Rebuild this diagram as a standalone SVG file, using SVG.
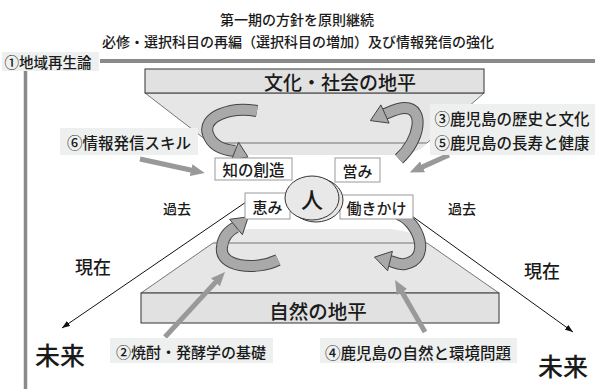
<svg xmlns="http://www.w3.org/2000/svg" width="595" height="389" viewBox="0 0 595 389">
<defs>
<style>
text{font-family:"Noto Sans CJK JP","Noto Sans CJK SC",sans-serif;font-weight:500;fill:#1a1a1a;text-anchor:middle;dominant-baseline:central}
.lbg{fill:#eef0ef}
.box{fill:#fff;stroke:#999;stroke-width:1}
.slab{fill:#e1e1e1;stroke:#333;stroke-width:1}
.face{fill:#e6e6e6;stroke:#555;stroke-width:0.8}
.rib-o{fill:none;stroke:#444;stroke-width:12;stroke-linecap:butt}
.rib-i{fill:none;stroke:#a9a9a9;stroke-width:10;stroke-linecap:butt}
.rhead{fill:#a9a9a9;stroke:#444;stroke-width:1;stroke-linejoin:miter}
.garr{stroke:#999;stroke-width:5;fill:none;marker-end:url(#gm)}
.blk{stroke:#111;stroke-width:1;fill:none;marker-end:url(#bm)}
</style>
<marker id="gm" markerUnits="userSpaceOnUse" markerWidth="14" markerHeight="12" refX="3" refY="6" orient="auto"><path d="M0,0 L14,6 L0,12 z" fill="#999"/></marker>
<marker id="bm" markerUnits="userSpaceOnUse" markerWidth="8" markerHeight="6" refX="8" refY="3" orient="auto"><path d="M0,0 L8,3 L0,6 z" fill="#111"/></marker>
</defs>

<g id="title">
<text x="297" y="19" font-size="14">第一期の方針を原則継続</text>
<text x="298" y="41" font-size="14">必修・選択科目の再編（選択科目の増加）及び情報発信の強化</text>
</g>

<g id="frame">
<line x1="100" y1="61" x2="595" y2="61" stroke="#8a8a8a" stroke-width="4"/>
<line x1="25.5" y1="70" x2="25.5" y2="389" stroke="#8a8a8a" stroke-width="3.5"/>
</g>
<g id="label1">
<rect class="lbg" x="2" y="52" width="97" height="19"/>
<text x="48" y="61" font-size="14.5">①地域再生論</text>
</g>

<g id="upper-slab">
<path d="M210,143 L427,143 Q420,153 398,155 L232,155 Q214,153 210,143 Z" fill="#e6e6e6"/>
<path class="face" d="M145,93 L484,93 L427,143 L210,143 Z"/>
<rect class="slab" x="145" y="69" width="339" height="24"/>
<text x="340" y="81" font-size="19">文化・社会の地平</text>
</g>

<g id="lower-slab">
<path d="M213,243 Q225,231 250,229 L390,229 Q415,231 427,243 Z" fill="#e8e8e8"/>
<path class="face" d="M213,243 L427,243 L499,293 L141,293 Z"/>
<rect class="slab" x="141" y="293" width="358" height="30"/>
<text x="318" y="310" font-size="19.5">自然の地平</text>
</g>

<g id="connectors">
<line class="blk" x1="249" y1="200" x2="62" y2="328"/>
<line class="blk" x1="398" y1="206" x2="573" y2="332"/>
<line class="garr" x1="140" y1="159" x2="194" y2="170.7"/>
<line class="garr" x1="449" y1="155" x2="419.8" y2="168.1"/>
<line class="garr" x1="165" y1="337" x2="217.5" y2="280.1"/>
<line class="garr" x1="425" y1="332" x2="400.5" y2="289.5"/>
<g id="rib1">
<path class="rib-o" d="M257,111 C230,106 202,117 208,134 C212,146 224,150 235,151"/>
<path class="rib-i" d="M257,111 C230,106 202,117 208,134 C212,146 224,150 235,151"/>
<polygon class="rhead" points="238.5,142.2 248,157 231.5,159.8"/>
</g>
<g id="rib2">
<path class="rib-o" d="M399,159 C420,140 425,108 405,108 C398,108 392,111 385,114"/>
<path class="rib-i" d="M399,159 C420,140 425,108 405,108 C398,108 392,111 385,114"/>
<polygon class="rhead" points="389.1,123.1 370.4,120.6 380.9,104.9"/>
</g>
<g id="rib3">
<path class="rib-o" d="M278,260 C255,271 219,267 222,247 C223,236 230,230 236,227"/>
<path class="rib-i" d="M278,260 C255,271 219,267 222,247 C223,236 230,230 236,227"/>
<polygon class="rhead" points="242.4,234.7 248.3,216.8 229.6,219.3"/>
</g>
<g id="rib4">
<path class="rib-o" d="M398,214 C419,222 432,259 405,264 C398,265 394,262 390,261"/>
<path class="rib-i" d="M398,214 C419,222 432,259 405,264 C398,265 394,262 390,261"/>
<polygon class="rhead" points="392.4,251.3 374.5,257.1 387.6,270.7"/>
</g>
</g>

<g id="n-chi">
<rect class="box" x="215" y="158" width="77" height="22"/>
<text x="253.5" y="169" font-size="15.5">知の創造</text>
</g>
<g id="n-itonami">
<rect class="box" x="335" y="158" width="45" height="24"/>
<text x="357.5" y="170" font-size="15">営み</text>
</g>
<g id="n-megumi">
<rect class="box" x="245" y="193" width="45" height="26"/>
<text x="267.5" y="206" font-size="15">恵み</text>
</g>
<g id="n-hatarakikake">
<rect class="box" x="340" y="195" width="73" height="24"/>
<text x="376.5" y="207" font-size="15">働きかけ</text>
</g>
<g id="n-hito">
<ellipse cx="316" cy="200" rx="27" ry="22" fill="#e8e8e8" stroke="#333" stroke-width="1"/>
<ellipse cx="312" cy="198" rx="27" ry="22" fill="#e8e8e8" stroke="#333" stroke-width="1"/>
<text x="312" y="198" font-size="22">人</text>
</g>

<g id="time-labels">
<text x="177" y="208" font-size="14">過去</text>
<text x="462" y="208" font-size="14">過去</text>
<text x="93" y="266" font-size="18">現在</text>
<text x="542" y="270" font-size="18">現在</text>
<text x="60" y="354" font-size="25">未来</text>
<text x="563" y="365" font-size="25">未来</text>
</g>

<g id="label35">
<rect class="lbg" x="430" y="104" width="165" height="51"/>
<text x="512" y="118" font-size="15.5">③鹿児島の歴史と文化</text>
<text x="512" y="142" font-size="15.5">⑤鹿児島の長寿と健康</text>
</g>
<g id="label6">
<rect class="lbg" x="60" y="128" width="138" height="27"/>
<text x="129" y="142" font-size="15.5">⑥情報発信スキル</text>
</g>
<g id="label2">
<rect class="lbg" x="110" y="338" width="163" height="25"/>
<text x="191" y="351" font-size="15">②焼酎・発酵学の基礎</text>
</g>
<g id="label4">
<rect class="lbg" x="320" y="338" width="197" height="25"/>
<text x="418" y="352" font-size="15.5">④鹿児島の自然と環境問題</text>
</g>
</svg>
